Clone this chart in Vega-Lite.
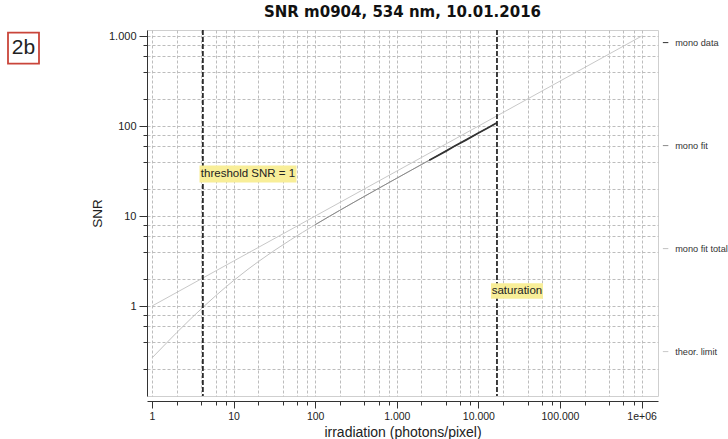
{
  "$schema": "https://vega.github.io/schema/vega-lite/v6.json",
  "autosize": {"type": "none"},
  "width": 511,
  "height": 366,
  "padding": {"left": 147, "top": 30, "right": 70, "bottom": 43},
  "background": "white",
  "title": {"text": "SNR m0904, 534 nm, 10.01.2016", "frame": "group", "anchor": "middle", "font": "DejaVu Sans", "fontSize": 15, "fontWeight": "bold", "color": "#111111", "offset": 9},
  "config": {"view": {"stroke": "#cfcfcf"}, "font": "Liberation Sans"},
  "datasets": {
    "curves": [
      {"series": "theor. limit", "irradiation": 1, "snr": 1},
      {"series": "theor. limit", "irradiation": 10, "snr": 3.162},
      {"series": "theor. limit", "irradiation": 100, "snr": 10},
      {"series": "theor. limit", "irradiation": 1000, "snr": 31.62},
      {"series": "theor. limit", "irradiation": 10000, "snr": 100},
      {"series": "theor. limit", "irradiation": 100000, "snr": 316.2},
      {"series": "theor. limit", "irradiation": 1000000, "snr": 1000},
      {"series": "mono fit total", "irradiation": 1, "snr": 0.265},
      {"series": "mono fit total", "irradiation": 1.5, "snr": 0.387},
      {"series": "mono fit total", "irradiation": 2, "snr": 0.505},
      {"series": "mono fit total", "irradiation": 3, "snr": 0.725},
      {"series": "mono fit total", "irradiation": 4.2, "snr": 0.967},
      {"series": "mono fit total", "irradiation": 6, "snr": 1.296},
      {"series": "mono fit total", "irradiation": 8, "snr": 1.623},
      {"series": "mono fit total", "irradiation": 10, "snr": 1.919},
      {"series": "mono fit total", "irradiation": 15, "snr": 2.562},
      {"series": "mono fit total", "irradiation": 20, "snr": 3.107},
      {"series": "mono fit total", "irradiation": 30, "snr": 4.019},
      {"series": "mono fit total", "irradiation": 50, "snr": 5.446},
      {"series": "mono fit total", "irradiation": 70, "snr": 6.589},
      {"series": "mono fit total", "irradiation": 100, "snr": 8.014},
      {"series": "mono fit total", "irradiation": 150, "snr": 9.953},
      {"series": "mono fit total", "irradiation": 200, "snr": 11.575},
      {"series": "mono fit total", "irradiation": 300, "snr": 14.279},
      {"series": "mono fit total", "irradiation": 500, "snr": 18.542},
      {"series": "mono fit total", "irradiation": 700, "snr": 21.995},
      {"series": "mono fit total", "irradiation": 1000, "snr": 26.339},
      {"series": "mono fit total", "irradiation": 1500, "snr": 32.306},
      {"series": "mono fit total", "irradiation": 2000, "snr": 37.333},
      {"series": "mono fit total", "irradiation": 3000, "snr": 45.757},
      {"series": "mono fit total", "irradiation": 5000, "snr": 59.108},
      {"series": "mono fit total", "irradiation": 7000, "snr": 69.955},
      {"series": "mono fit total", "irradiation": 10000, "snr": 83.63},
      {"series": "mono fit total", "irradiation": 13000, "snr": 95.36},
      {"series": "mono fit total", "irradiation": 16900, "snr": 108.74},
      {"series": "mono fit", "irradiation": 100, "snr": 8.014},
      {"series": "mono fit", "irradiation": 150, "snr": 9.953},
      {"series": "mono fit", "irradiation": 200, "snr": 11.575},
      {"series": "mono fit", "irradiation": 300, "snr": 14.279},
      {"series": "mono fit", "irradiation": 500, "snr": 18.542},
      {"series": "mono fit", "irradiation": 700, "snr": 21.995},
      {"series": "mono fit", "irradiation": 1000, "snr": 26.339},
      {"series": "mono fit", "irradiation": 1500, "snr": 32.306},
      {"series": "mono fit", "irradiation": 2000, "snr": 37.333},
      {"series": "mono fit", "irradiation": 3000, "snr": 45.757},
      {"series": "mono fit", "irradiation": 5000, "snr": 59.108},
      {"series": "mono fit", "irradiation": 7000, "snr": 69.955},
      {"series": "mono fit", "irradiation": 10000, "snr": 83.63},
      {"series": "mono fit", "irradiation": 13000, "snr": 95.36},
      {"series": "mono fit", "irradiation": 16900, "snr": 108.74}
    ],
    "measured": [
      {"series": "mono data", "irradiation": 2500, "snr": 41.8},
      {"series": "mono data", "irradiation": 3000, "snr": 45.7},
      {"series": "mono data", "irradiation": 4000, "snr": 52.7},
      {"series": "mono data", "irradiation": 5000, "snr": 59.2},
      {"series": "mono data", "irradiation": 7000, "snr": 69.9},
      {"series": "mono data", "irradiation": 10000, "snr": 83.7},
      {"series": "mono data", "irradiation": 13000, "snr": 95.3},
      {"series": "mono data", "irradiation": 16900, "snr": 109}
    ],
    "limits": [
      {"name": "threshold", "irradiation": 4.2},
      {"name": "saturation", "irradiation": 16900}
    ],
    "notes": [
      {"label": "threshold SNR = 1", "irradiation": 15, "snr": 29.3},
      {"label": "saturation", "irradiation": 29700, "snr": 1.47},
      {"label": "2b", "irradiation": 0.0266, "snr": 736}
    ]
  },
  "layer": [
    {
      "data": {"name": "curves"},
      "mark": {"type": "line", "strokeWidth": 1},
      "encoding": {
        "x": {
          "field": "irradiation", "type": "quantitative",
          "scale": {"type": "log", "domain": [0.868, 1590000], "nice": false},
          "axis": {
            "title": "irradiation (photons/pixel)",
            "values": [1, 2, 4, 6, 8, 10, 20, 40, 60, 80, 100, 200, 400, 600, 800, 1000, 2000, 4000, 6000, 8000, 10000, 20000, 40000, 60000, 80000, 100000, 200000, 400000, 600000, 800000, 1000000],
            "labelExpr": "datum.value == 1 ? '1' : datum.value == 10 ? '10' : datum.value == 100 ? '100' : datum.value == 1000 ? '1.000' : datum.value == 10000 ? '10.000' : datum.value == 100000 ? '100.000' : datum.value == 1000000 ? '1e+06' : ''",
            "labelOverlap": false, "labelFlush": false,
            "offset": 5,
            "tickSize": {"condition": {"test": "indexof([1,10,100,1000,10000,100000,1000000], datum.value) >= 0", "value": 7}, "value": 4},
            "domainColor": "#333333", "tickColor": "#333333",
            "labelFont": "Liberation Sans", "labelFontSize": 10.5, "labelColor": "#222222", "labelPadding": 3,
            "titleFont": "Liberation Sans", "titleFontSize": 14, "titleFontWeight": "normal", "titleColor": "#222222",
            "gridColor": "#bdbdbd", "gridDash": [3, 2]
          }
        },
        "y": {
          "field": "snr", "type": "quantitative",
          "scale": {"type": "log", "domain": [0.1, 1170], "nice": false},
          "axis": {
            "title": "SNR",
            "values": [0.2, 0.4, 0.6, 0.8, 1, 2, 4, 6, 8, 10, 20, 40, 60, 80, 100, 200, 400, 600, 800, 1000],
            "labelExpr": "datum.value == 1 ? '1' : datum.value == 10 ? '10' : datum.value == 100 ? '100' : datum.value == 1000 ? '1.000' : ''",
            "labelOverlap": false, "labelFlush": false,
            "tickSize": {"condition": {"test": "indexof([1,10,100,1000], datum.value) >= 0", "value": 8}, "value": 4},
            "domainColor": "#333333", "tickColor": "#333333",
            "labelFont": "Liberation Sans", "labelFontSize": 11, "labelColor": "#222222", "labelPadding": 3,
            "titleFont": "Liberation Sans", "titleFontSize": 13.5, "titleFontWeight": "normal", "titleColor": "#222222",
            "gridColor": "#bdbdbd", "gridDash": [3, 2]
          }
        },
        "color": {
          "field": "series", "type": "nominal",
          "scale": {"domain": ["mono data", "mono fit", "mono fit total", "theor. limit"], "range": ["#333333", "#8a8a8a", "#c2c2c2", "#c8c8c8"]},
          "legend": {
            "title": null, "orient": "none", "legendX": 514, "legendY": 8,
            "symbolType": "stroke", "symbolSize": 30, "symbolStrokeWidth": 1,
            "labelFont": "Liberation Sans", "labelFontSize": 9.2, "labelColor": "#333333", "labelOffset": 5,
            "rowPadding": 93, "labelLimit": 200, "padding": 0,
            "encode": {"symbols": {"update": {"stroke": {"value": "#b0b0b0"}}}}
          }
        }
      }
    },
    {
      "data": {"name": "measured"},
      "mark": {"type": "line", "strokeWidth": 1.8},
      "encoding": {
        "x": {"field": "irradiation", "type": "quantitative"},
        "y": {"field": "snr", "type": "quantitative"},
        "color": {"field": "series", "type": "nominal"}
      }
    },
    {
      "data": {"name": "limits"},
      "mark": {"type": "rule", "strokeDash": [5, 2], "strokeWidth": 1.8, "color": "#2b2b2b"},
      "encoding": {"x": {"field": "irradiation", "type": "quantitative"}}
    },
    {
      "data": {"name": "notes"},
      "transform": [{"filter": "datum.label == 'threshold SNR = 1'"}],
      "mark": {"type": "point", "shape": "M-1,-0.175L1,-0.175L1,0.175L-1,0.175Z", "filled": true, "fill": "#f8ee98", "opacity": 1, "strokeWidth": 0, "size": 9409},
      "encoding": {"x": {"field": "irradiation", "type": "quantitative"}, "y": {"field": "snr", "type": "quantitative"}}
    },
    {
      "data": {"name": "notes"},
      "transform": [{"filter": "datum.label == 'saturation'"}],
      "mark": {"type": "point", "shape": "M-1,-0.3L1,-0.3L1,0.3L-1,0.3Z", "filled": true, "fill": "#f8ee98", "opacity": 1, "strokeWidth": 0, "size": 2704},
      "encoding": {"x": {"field": "irradiation", "type": "quantitative"}, "y": {"field": "snr", "type": "quantitative"}}
    },
    {
      "data": {"name": "notes"},
      "transform": [{"filter": "datum.label == '2b'"}],
      "mark": {"type": "point", "shape": "square", "filled": false, "stroke": "#c9453a", "strokeWidth": 1.8, "opacity": 1, "size": 961},
      "encoding": {"x": {"field": "irradiation", "type": "quantitative"}, "y": {"field": "snr", "type": "quantitative"}}
    },
    {
      "data": {"name": "notes"},
      "mark": {"type": "text", "font": "Liberation Sans", "color": "#222222"},
      "encoding": {
        "x": {"field": "irradiation", "type": "quantitative"},
        "y": {"field": "snr", "type": "quantitative"},
        "text": {"field": "label"},
        "size": {"condition": {"test": "datum.label == '2b'", "value": 21}, "value": 11.5}
      }
    }
  ]
}
